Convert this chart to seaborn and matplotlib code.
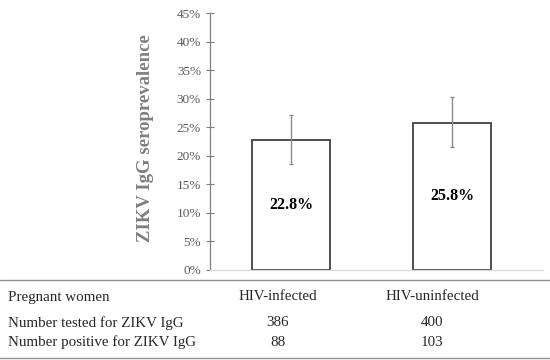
import pandas as pd
import seaborn as sns
import matplotlib.pyplot as plt
from matplotlib.lines import Line2D
from matplotlib.ticker import PercentFormatter

groups = ["HIV-infected", "HIV-uninfected"]
prevalence = [22.8, 25.8]
ci_low = [18.6, 21.5]
ci_high = [27.2, 30.3]
tested = [386, 400]
positive = [88, 103]

data = pd.DataFrame({"group": groups, "prev": prevalence})

sns.set_style("white")
plt.rcParams["font.family"] = ["Liberation Serif", "DejaVu Serif"]

fig = plt.figure(figsize=(5.5, 3.6), dpi=100)
ax = fig.add_axes([0.382, 0.251, 0.605, 0.712])

sns.barplot(data=data, x="group", y="prev", ax=ax, color="white",
            edgecolor="#404040", linewidth=1.3, width=0.485, errorbar=None)

yerr = [[p - lo for p, lo in zip(prevalence, ci_low)],
        [hi - p for p, hi in zip(prevalence, ci_high)]]
ax.errorbar(range(len(groups)), prevalence, yerr=yerr, fmt="none",
            ecolor="#8a8a8a", elinewidth=1.0, capsize=1.5, capthick=1.0)

for i, p in enumerate(prevalence):
    ax.text(i, p / 2, f"{p:.1f}%", ha="center", va="center",
            fontsize=11.5, fontweight="bold", color="black")

ax.set_ylim(0, 45)
ax.set_xlim(-0.503, 1.565)
ax.set_yticks(range(0, 50, 5))
ax.yaxis.set_major_formatter(PercentFormatter(decimals=0))
ax.set_xticks([])
ax.set_xlabel("")
ax.set_ylabel("")
ax.tick_params(axis="y", direction="inout", length=6, width=0.8,
               color="#808080", labelcolor="#595959", labelsize=9.5, left=True)
for s in ["top", "right"]:
    ax.spines[s].set_visible(False)
ax.spines["left"].set_color("#808080")
ax.spines["left"].set_linewidth(0.9)
ax.spines["bottom"].set_color("#d9d9d9")
ax.spines["bottom"].set_linewidth(0.9)

fig.text(0.264, 0.617, "ZIKV IgG seroprevalence", rotation=90, ha="center",
         va="center", fontsize=13.5, fontweight="bold", color="#7f7f7f")

# table under the chart
fig.add_artist(Line2D([0, 1], [1 - 280 / 360] * 2, color="#909090", lw=1.0))
fig.add_artist(Line2D([0, 1], [1 - 358 / 360] * 2, color="#909090", lw=1.0))

rows = [("Pregnant women", groups[0], groups[1], 297),
        ("Number tested for ZIKV IgG", str(tested[0]), str(tested[1]), 323),
        ("Number positive for ZIKV IgG", str(positive[0]), str(positive[1]), 342)]
for label, a, b, ypx in rows:
    y = 1 - ypx / 360
    fig.text(8 / 550, y, label, ha="left", va="center", fontsize=10.8)
    fig.text(278 / 550, y, a, ha="center", va="center", fontsize=10.8)
    fig.text(432 / 550, y, b, ha="center", va="center", fontsize=10.8)

fig.savefig("out.png", dpi=100)
